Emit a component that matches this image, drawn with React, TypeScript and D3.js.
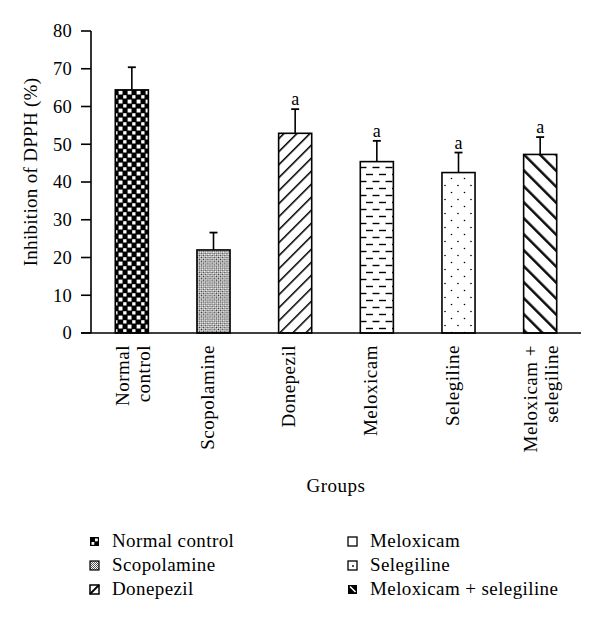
import React from "react";
import * as d3 from "d3";

const categories = ["Normal control", "Scopolamine", "Donepezil", "Meloxicam", "Selegiline", "Meloxicam + selegiline"];
const axisLabels: string[][] = [["Normal", "control"], ["Scopolamine"], ["Donepezil"], ["Meloxicam"], ["Selegiline"], ["Meloxicam +", "selegiline"]];
const values = [64.4, 22.0, 52.9, 45.4, 42.5, 47.3];
const errors = [6.0, 4.6, 6.4, 5.5, 5.3, 4.6];
const significance = ["", "", "a", "a", "a", "a"];
const yTicks = [0, 10, 20, 30, 40, 50, 60, 70, 80];

const FONT = "'Liberation Serif', 'Times New Roman', serif";
const W = 600, H = 623;
const left = 91, right = 581, top = 31, bottom = 333;

const patIds = ["pNormal", "pScop", "pDone", "pMelox", "pSeleg", "pMS"];

export default function App() {
  const x = d3.scaleBand<string>().domain(categories).range([left, right]).paddingInner(0.595).paddingOuter(0.2975);
  const y = d3.scaleLinear().domain([0, 80]).range([bottom, top]);
  const bw = x.bandwidth();

  const legendCols = [
    { sx: 90, tx: 112, items: [0, 1, 2] },
    { sx: 348, tx: 370, items: [3, 4, 5] },
  ];
  const legendRows = [547, 571, 595];

  const swatch = (i: number, sx: number, sy: number) => {
    const s = 9;
    switch (i) {
      case 0:
        return (
          <g>
            <rect x={sx} y={sy} width={s} height={s} fill="#000" />
            <rect x={sx + 5} y={sy + 1.5} width={2.8} height={2.8} fill="#fff" />
            <rect x={sx + 1.5} y={sy + 5} width={2.8} height={2.8} fill="#fff" />
          </g>
        );
      case 1:
        return <rect x={sx} y={sy} width={s} height={s} fill="url(#pScopS)" stroke="#000" strokeWidth={1.2} />;
      case 2:
        return (
          <g>
            <rect x={sx} y={sy} width={s} height={s} fill="#fff" stroke="#000" strokeWidth={1.5} />
            <line x1={sx} y1={sy + s} x2={sx + s} y2={sy} stroke="#000" strokeWidth={1.8} />
          </g>
        );
      case 3:
        return <rect x={sx} y={sy} width={s} height={s} fill="#fff" stroke="#000" strokeWidth={1.3} />;
      case 4:
        return (
          <g>
            <rect x={sx} y={sy} width={s} height={s} fill="#fff" stroke="#000" strokeWidth={1.3} />
            <circle cx={sx + 5} cy={sy + 5} r={0.9} fill="#000" />
          </g>
        );
      default:
        return (
          <g>
            <rect x={sx} y={sy} width={s} height={s} fill="#000" />
            <line x1={sx + 2} y1={sy + 1.5} x2={sx + 7.5} y2={sy + 7} stroke="#fff" strokeWidth={1.6} />
          </g>
        );
    }
  };

  return (
    <svg width={W} height={H} style={{ position: "absolute", left: 0, top: 0, background: "#fff" }} fontFamily={FONT}>
      <defs>
        <pattern id="pNormal" patternUnits="userSpaceOnUse" width={9} height={9} x={left} y={0}>
          <rect width={9} height={9} fill="#000" />
          <rect x={0.6} y={0.6} width={3.9} height={3.9} fill="#fff" />
          <rect x={5.2} y={5.2} width={3.3} height={3.3} fill="#fff" />
        </pattern>
        <pattern id="pScop" patternUnits="userSpaceOnUse" width={3} height={3} patternTransform="rotate(45)">
          <rect width={3} height={3} fill="#fff" />
          <rect width={1.3} height={1.3} fill="#222" />
          <rect x={1.5} y={1.5} width={1.3} height={1.3} fill="#222" />
        </pattern>
        <pattern id="pScopS" patternUnits="userSpaceOnUse" width={2} height={2}>
          <rect width={2} height={2} fill="#fff" />
          <rect width={1} height={1} fill="#555" />
          <rect x={1} y={1} width={1} height={1} fill="#555" />
        </pattern>
        <pattern id="pDone" patternUnits="userSpaceOnUse" width={9.2} height={10} patternTransform="rotate(45)">
          <rect width={9.2} height={10} fill="#fff" />
          <line x1={0.8} y1={0} x2={0.8} y2={10} stroke="#000" strokeWidth={1.5} />
        </pattern>
        <pattern id="pMelox" patternUnits="userSpaceOnUse" width={13} height={14} y={3}>
          <rect width={13} height={14} fill="#fff" />
          <line x1={2} y1={3.5} x2={9} y2={3.5} stroke="#000" strokeWidth={1.4} />
          <line x1={8.5} y1={10.5} x2={13} y2={10.5} stroke="#000" strokeWidth={1.4} />
          <line x1={0} y1={10.5} x2={2.5} y2={10.5} stroke="#000" strokeWidth={1.4} />
        </pattern>
        <pattern id="pSeleg" patternUnits="userSpaceOnUse" width={13} height={14}>
          <rect width={13} height={14} fill="#fff" />
          <circle cx={3} cy={3.5} r={0.8} fill="#000" />
          <circle cx={9.5} cy={10.5} r={0.8} fill="#000" />
        </pattern>
        <pattern id="pMS" patternUnits="userSpaceOnUse" width={11.3} height={10} patternTransform="rotate(-45)">
          <rect width={11.3} height={10} fill="#fff" />
          <line x1={1.3} y1={0} x2={1.3} y2={10} stroke="#000" strokeWidth={2.4} />
        </pattern>
      </defs>

      {/* bars */}
      {categories.map((c, i) => {
        const bx = x(c)!;
        const cx = bx + bw / 2;
        const yTop = y(values[i]);
        const yErr = y(values[i] + errors[i]);
        return (
          <g key={c}>
            <line x1={cx} x2={cx} y1={yTop} y2={yErr} stroke="#000" strokeWidth={1.6} />
            <line x1={cx - 4} x2={cx + 4} y1={yErr} y2={yErr} stroke="#000" strokeWidth={1.8} />
            <rect x={bx} y={yTop} width={bw} height={bottom - yTop} fill={`url(#${patIds[i]})`} stroke="#000" strokeWidth={1.6} />
            {significance[i] && (
              <text x={cx} y={yErr - 4} textAnchor="middle" fontSize={18}>{significance[i]}</text>
            )}
          </g>
        );
      })}

      {/* y axis */}
      <line x1={left} x2={left} y1={top} y2={bottom} stroke="#000" strokeWidth={1.6} />
      {yTicks.map((t) => (
        <g key={t}>
          <line x1={left - 10} x2={left} y1={y(t)} y2={y(t)} stroke="#000" strokeWidth={1.6} />
          <text x={72} y={y(t)} dy="0.35em" textAnchor="end" fontSize={18.5} letterSpacing={0.3}>{t}</text>
        </g>
      ))}
      {/* x axis */}
      <line x1={left - 10} x2={right} y1={bottom} y2={bottom} stroke="#000" strokeWidth={1.6} />

      {/* x labels */}
      {categories.map((c, i) => {
        const cx = x(c)! + bw / 2;
        const lines = axisLabels[i];
        return lines.map((ln, j) => {
          const bx = lines.length === 1 ? cx : cx + (j === 0 ? -3 : 18);
          return (
            <text key={c + j} transform={`translate(${bx},345) rotate(-90)`} textAnchor="end" fontSize={19} letterSpacing={0.5}>{ln}</text>
          );
        });
      })}

      <text transform="translate(37,172) rotate(-90)" textAnchor="middle" fontSize={19} letterSpacing={0.3}>Inhibition of DPPH (%)</text>
      <text x={(left + right) / 2} y={492} textAnchor="middle" fontSize={19} letterSpacing={0.5}>Groups</text>

      {/* legend */}
      {legendCols.map((col, ci) =>
        col.items.map((it, ri) => (
          <g key={`${ci}-${ri}`}>
            {swatch(it, col.sx, legendRows[ri] - 10)}
            <text x={col.tx} y={legendRows[ri]} fontSize={19} letterSpacing={0.4}>{categories[it]}</text>
          </g>
        ))
      )}
    </svg>
  );
}
